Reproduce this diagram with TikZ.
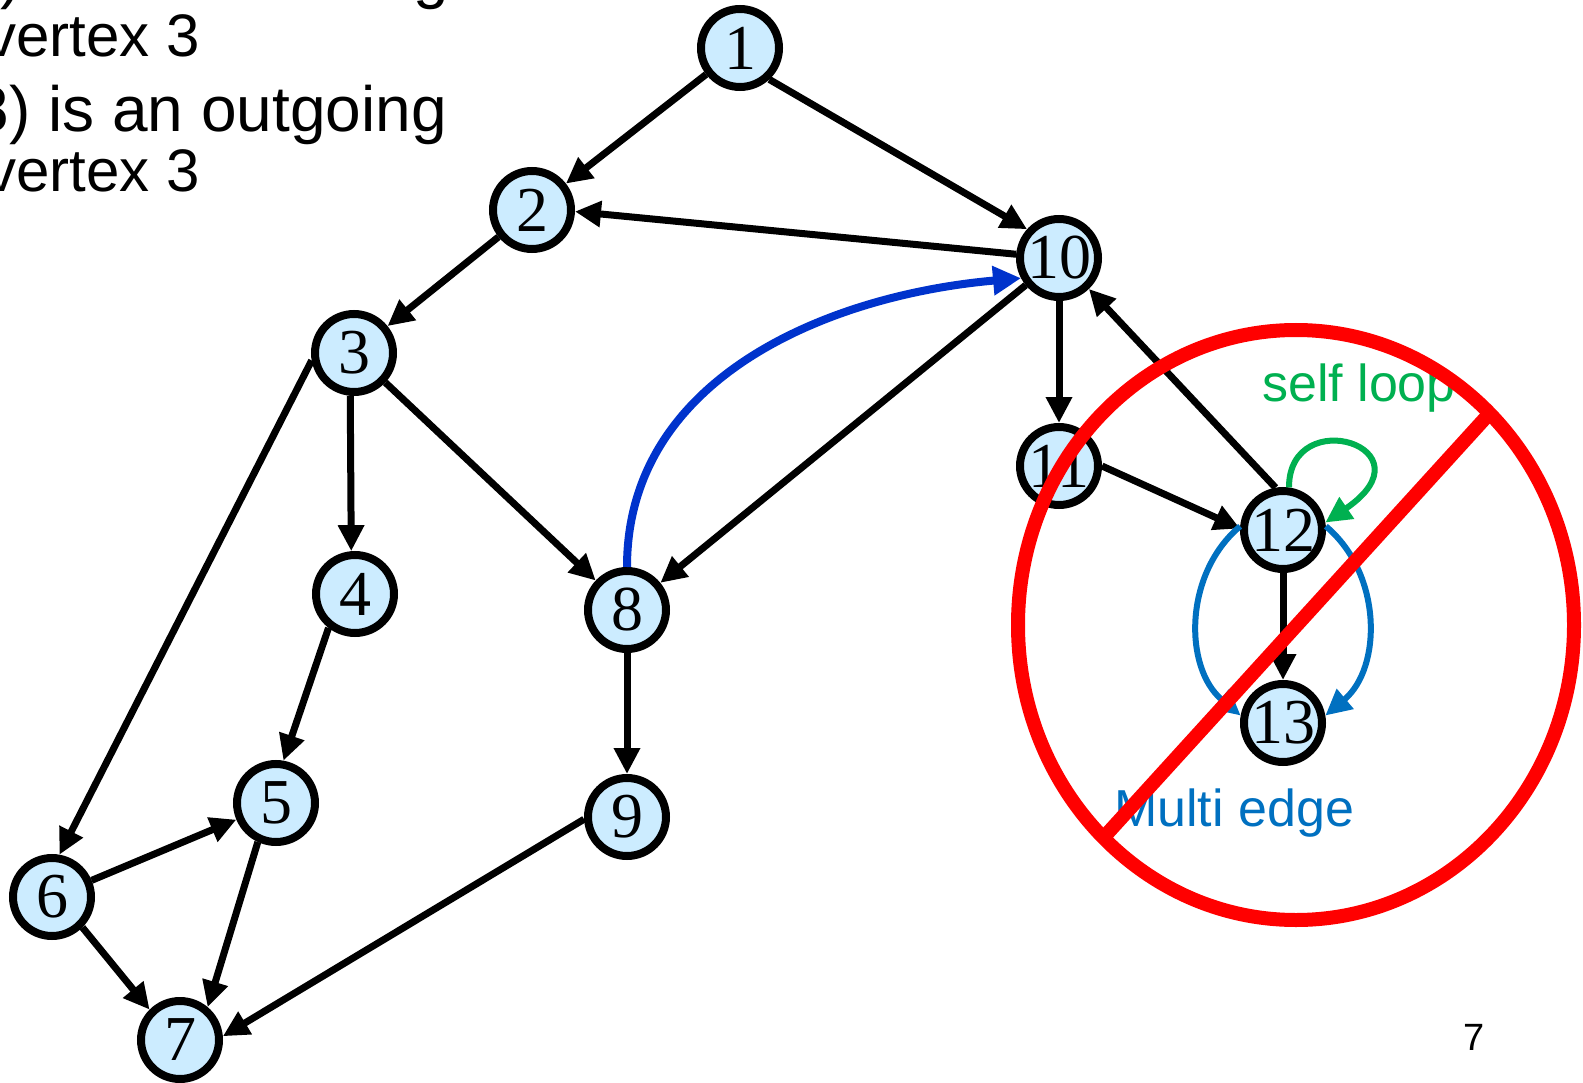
\documentclass[tikz,border=0pt]{standalone}
\usepackage{fontspec}
\setmainfont{Liberation Serif}
\setsansfont{Liberation Sans}
\usetikzlibrary{arrows.meta}

\definecolor{vfill}{HTML}{CCECFF}
\definecolor{loopgreen}{HTML}{00B050}
\definecolor{multiblue}{HTML}{0070C0}
\definecolor{backblue}{HTML}{0033CC}
\definecolor{crossred}{HTML}{FF0000}

\tikzset{
	vertex/.style={circle, draw=black, fill=vfill, line width=8pt, minimum size=78pt, inner sep=0pt, font=\fontsize{64}{64}\selectfont},
	edge/.style={line width=7pt, -{Triangle[length=26pt,width=25pt]}},
	slideline/.style={anchor=base east, inner sep=0pt, font=\sffamily\fontsize{64}{70}\selectfont},
	subline/.style={slideline, font=\sffamily\fontsize{60}{66}\selectfont},
	remark/.style={anchor=base west, inner sep=0pt, font=\sffamily\fontsize{52}{56}\selectfont},
}

\begin{document}
\begin{tikzpicture}[x=1pt, y=1pt]
			%%%%% START %%%%%
			\useasboundingbox (0,0) rectangle (1583,-1083);
			
			\node[slideline] (line1) at (449,3) {(2,3) is an incoming};
			\node[subline] (line2) at (200,-57) {edge of vertex 3};
			\node[slideline] (line3) at (447,-132) {(3,8) is an outgoing};
			\node[subline] (line4) at (200,-192) {edge of vertex 3};
			
			\node[vertex] (n1) at (740,-48) {1};
			\node[vertex] (n2) at (532,-210) {2};
			\node[vertex] (n10) at (1059,-258) {10};
			\node[vertex] (n3) at (354,-353) {3};
			\node[vertex] (n11) at (1059,-466) {11};
			\node[vertex] (n12) at (1283,-530) {12};
			\node[vertex] (n4) at (355,-594) {4};
			\node[vertex] (n8) at (627,-610) {8};
			\node[vertex] (n13) at (1283,-723) {13};
			\node[vertex] (n5) at (276,-803) {5};
			\node[vertex] (n9) at (627,-817) {9};
			\node[vertex] (n6) at (52,-897) {6};
			\node[vertex] (n7) at (180,-1040) {7};
			
			\draw[edge] (n1) -- (n2);
			\draw[edge] (n1.-47) -- (n10.138);
			\draw[edge] (n10.175) -- (n2.-2);
			\draw[edge] (n2) -- (n3);
			\draw[edge] (n3.265) -- (n4.95);
			\draw[edge] (n3) -- (n8);
			\draw[edge] (n3.190) -- (n6.80);
			\draw[edge] (n4.232) -- (n5.80);
			\draw[edge] (n6) -- (n5);
			\draw[edge] (n5.245) -- (n7.50);
			\draw[edge] (n6.-45) -- (n7.135);
			\draw[edge] (n9.183) -- (n7.5);
			\draw[edge] (n8) -- (n9);
			\draw[edge] (n10) -- (n8);
			\draw[edge] (n10) -- (n11);
			\draw[edge] (n11.east) -- (n12.178);
			\draw[edge] (n12.100) -- (n10.-46);
			\draw[edge] (n12) -- (n13);
			
			\draw[edge, line width=8pt, color=backblue, -{Triangle[length=28pt,width=28pt]}] (n8.north) to[out=90,in=185] (n10.208);
			
			\draw[edge, line width=6pt, color=loopgreen] (n12.82) .. controls +(0,85) and +(110,75) .. (n12.10);
			\draw[edge, line width=6pt, color=multiblue] (n12.175) to[out=220,in=140] (n13.170);
			\draw[edge, line width=6pt, color=multiblue] (n12.5) to[out=-40,in=40] (n13.10);
			
			\node[remark, text=loopgreen] (selfloop) at (1262,-402) {self loop};
			\node[remark, text=multiblue] (multiedge) at (1114,-826) {Multi edge};
			
			\draw[line width=14pt, color=crossred] (1296,-625) ellipse [x radius=278, y radius=295];
			\draw[line width=14pt, color=crossred] (1105,-836) -- (1489,-414);
			
			\node[anchor=base, inner sep=0pt, font=\sffamily\fontsize{38}{40}\selectfont] (pagenum) at (1474,-1050) {7};
			%%%%% END %%%%%
\end{tikzpicture}
\end{document}
